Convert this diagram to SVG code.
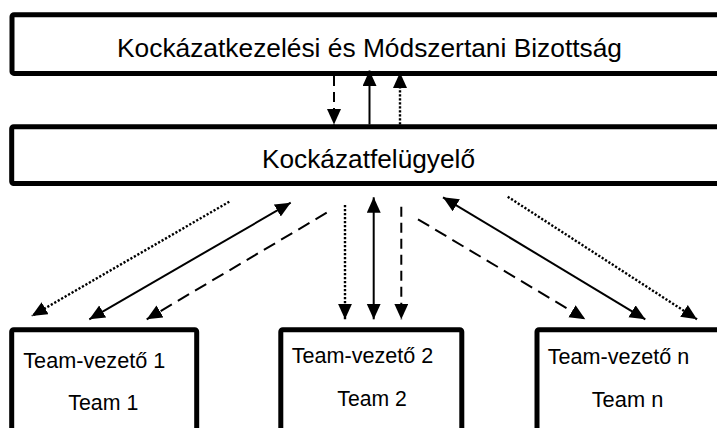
<svg xmlns="http://www.w3.org/2000/svg" width="717" height="428" viewBox="0 0 717 428">
<style>
.box{fill:#fff;stroke:#000;stroke-width:5;stroke-linejoin:round}
.big{font-family:"Liberation Sans",Arial,sans-serif;font-size:26.5px;fill:#000;text-anchor:middle}
.sm{font-family:"Liberation Sans",Arial,sans-serif;font-size:21.5px;fill:#000}
.c{fill:none;stroke:#000;stroke-width:2}
.dash{stroke-dasharray:13 7}
.vdash{stroke-dasharray:10 6}
.dot{stroke-width:2.4;stroke-dasharray:2.2 1.8}
</style>
<defs>
<marker id="ah" markerUnits="userSpaceOnUse" markerWidth="17" markerHeight="15" refX="15.5" refY="7" orient="auto-start-reverse" viewBox="0 0 17 15">
<path d="M0,0 L15.5,7 L0,14 Z" fill="#000"/>
</marker>
</defs>
<rect width="717" height="428" fill="#fff"/>
<g id="bizottsag">
<rect class="box" x="12" y="14.8" width="720" height="58.6" rx="2"/>
<text class="big" x="369.5" y="56.7" textLength="505" lengthAdjust="spacingAndGlyphs">Kockázatkezelési és Módszertani Bizottság</text>
</g>
<g id="felugyelo">
<rect class="box" x="11.7" y="126.7" width="720" height="56.8" rx="2"/>
<text class="big" x="368.5" y="167.5" textLength="213" lengthAdjust="spacingAndGlyphs">Kockázatfelügyelő</text>
</g>
<g id="team1">
<rect class="box" x="11.7" y="329.8" width="185" height="120" rx="2"/>
<text class="sm" x="23.3" y="368.3" textLength="142" lengthAdjust="spacingAndGlyphs">Team-vezető 1</text>
<text class="sm" x="68.3" y="410" textLength="70" lengthAdjust="spacingAndGlyphs">Team 1</text>
</g>
<g id="team2">
<rect class="box" x="280.8" y="329.8" width="181" height="120" rx="2"/>
<text class="sm" x="291.7" y="363.3" textLength="141.6" lengthAdjust="spacingAndGlyphs">Team-vezető 2</text>
<text class="sm" x="337.3" y="406" textLength="69.4" lengthAdjust="spacingAndGlyphs">Team 2</text>
</g>
<g id="teamn">
<rect class="box" x="537" y="329.8" width="200" height="120" rx="2"/>
<text class="sm" x="547.7" y="364" textLength="141.6" lengthAdjust="spacingAndGlyphs">Team-vezető n</text>
<text class="sm" x="591.7" y="406.7" textLength="71.6" lengthAdjust="spacingAndGlyphs">Team n</text>
</g>
<g id="connectors">
<line class="c vdash" x1="334" y1="76" x2="334" y2="124.5" marker-end="url(#ah)"/>
<line class="c" x1="369.5" y1="124.5" x2="369.5" y2="70.5" marker-end="url(#ah)"/>
<line class="c dot" x1="400" y1="124.5" x2="400" y2="72.5" marker-end="url(#ah)"/>
<line class="c dot" x1="229.3" y1="201.7" x2="31.7" y2="316" marker-end="url(#ah)"/>
<line class="c" x1="290.7" y1="202.7" x2="89.3" y2="319.3" marker-start="url(#ah)" marker-end="url(#ah)"/>
<line class="c dash" x1="326.7" y1="212.7" x2="146.7" y2="319.3" marker-end="url(#ah)"/>
<line class="c dot" x1="345" y1="205" x2="345" y2="319.3" marker-end="url(#ah)"/>
<line class="c" x1="373.7" y1="197.3" x2="373.7" y2="319.3" marker-start="url(#ah)" marker-end="url(#ah)"/>
<line class="c vdash" x1="401.3" y1="206.7" x2="401.3" y2="319.3" marker-end="url(#ah)"/>
<line class="c dash" x1="418" y1="219.3" x2="585.3" y2="319.3" marker-end="url(#ah)"/>
<line class="c" x1="443" y1="197.3" x2="645.3" y2="319.3" marker-start="url(#ah)" marker-end="url(#ah)"/>
<line class="c dot" x1="507.7" y1="196.7" x2="697" y2="319.3" marker-end="url(#ah)"/>
</g>
</svg>
